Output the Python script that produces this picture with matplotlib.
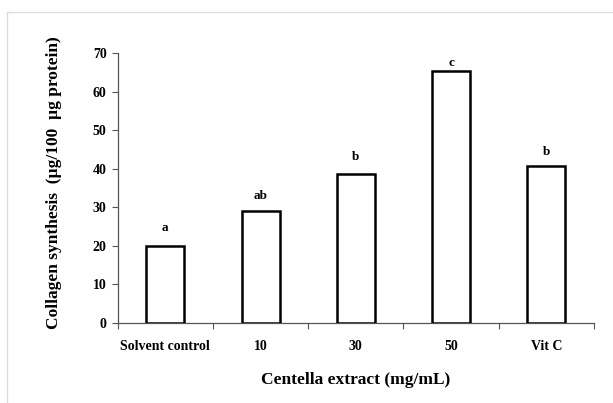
import matplotlib
matplotlib.use("Agg")
import matplotlib.pyplot as plt
from matplotlib.lines import Line2D

categories = ["Solvent control", "10", "30", "50", "Vit C"]
values = [20.0, 29.0, 38.6, 65.3, 40.7]
letters = ["a", "ab", "b", "c", "b"]
letter_offsets = [4.7, 3.9, 4.4, 2.1, 3.6]
yticks = [0, 10, 20, 30, 40, 50, 60, 70]

plt.rcParams['font.family'] = ['Liberation Serif', 'DejaVu Serif']

fig = plt.figure(figsize=(6.13, 4.03), dpi=100)
ax = fig.add_axes([117.7/613, 1-323/403, (594-117.7)/613, (323-53)/403])

x = list(range(len(categories)))
ax.bar(x, values, width=0.4, color='white', edgecolor='black', linewidth=1.8, zorder=3)
for xi, v, l, o in zip(x, values, letters, letter_offsets):
    ax.text(xi, v + o, l, ha='center', va='center', fontsize=9.5, fontweight='bold')

ax.set_xlim(-0.5, len(categories) - 0.5)
ax.set_ylim(0, 70)
ax.set_yticks(yticks)
ax.set_yticklabels([str(t) for t in yticks], fontsize=10, fontweight='bold')
ax.set_xticks(x)
ax.set_xticklabels(categories, fontsize=10, fontweight='bold')
ax.set_xticks([i - 0.5 for i in range(len(categories) + 1)], minor=True)
ax.tick_params(axis='x', which='major', length=0, pad=12)
ax.tick_params(axis='x', which='minor', length=4, direction='out', color='#555555', width=0.8)
ax.tick_params(axis='y', length=4, direction='out', color='#555555', width=0.8, pad=4)

for s in ['top', 'right']:
    ax.spines[s].set_visible(False)
for s in ['left', 'bottom']:
    ax.spines[s].set_color('#555555')
    ax.spines[s].set_linewidth(0.9)

ax.set_ylabel("Collagen synthesis  (µg/100  µg protein)", fontsize=12.5, fontweight='bold')
ax.set_xlabel("Centella extract (mg/mL)", fontsize=12.5, fontweight='bold')
ax.yaxis.set_label_coords(-(117.7-62)/(594-117.7), 0.52)
ax.xaxis.set_label_coords(0.5, -(372-323)/(323-53))

# light page frame
fig.add_artist(Line2D([7/613, 7/613], [0, 1-12/403], transform=fig.transFigure, color='#dddddd', lw=1))
fig.add_artist(Line2D([7/613, 1], [1-12/403, 1-12/403], transform=fig.transFigure, color='#dddddd', lw=1))

fig.savefig("out.png", dpi=100)
